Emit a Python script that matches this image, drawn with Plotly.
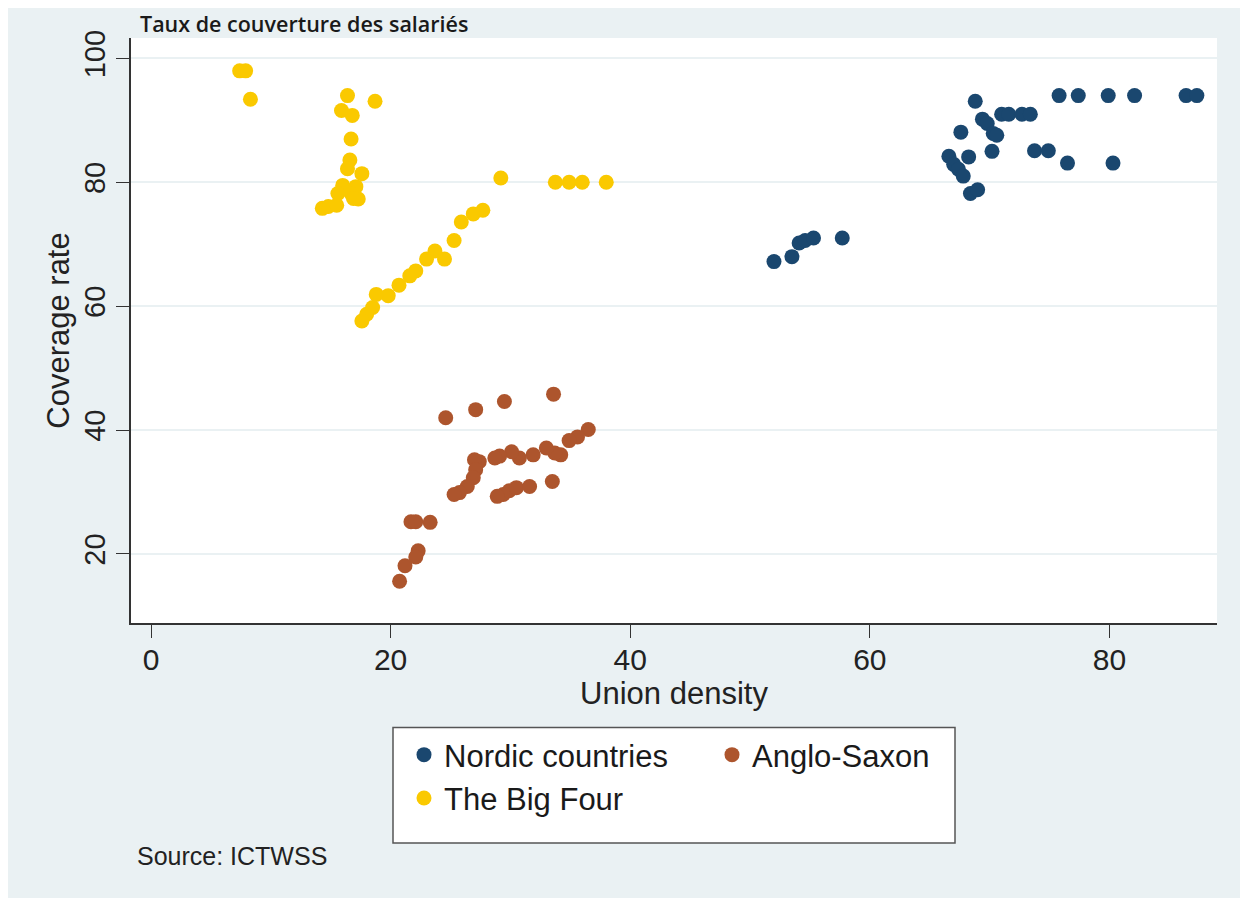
import plotly.graph_objects as go

# ---- data ----
nordic_x = [52.0, 53.5, 54.1, 54.6, 55.3, 57.7,
            66.6, 67.0, 67.4, 67.8, 68.25, 67.6, 68.4, 69.0, 68.8, 69.4, 69.8, 70.3, 70.6, 70.2,
            71.0, 71.6, 72.7, 73.4, 73.75, 74.9, 76.5, 80.3, 75.8, 77.4, 79.9, 82.1, 86.4, 87.3]
nordic_y = [67.2, 68.0, 70.2, 70.6, 71.0, 71.0,
            84.2, 82.9, 82.1, 81.0, 84.1, 88.1, 78.2, 78.8, 93.1, 90.2, 89.5, 87.9, 87.6, 85.0,
            91.0, 91.0, 91.0, 91.0, 85.1, 85.1, 83.1, 83.1, 94.0, 94.0, 94.0, 94.0, 94.0, 94.0]

anglo_x = [24.6, 27.1, 29.5, 33.6, 36.5, 35.6, 34.9, 34.2, 33.7, 33.0, 31.9, 30.75, 30.1, 29.1,
           28.7, 27.4, 27.0, 27.1, 26.9, 26.4, 25.75, 25.3, 29.4, 29.9, 30.5, 31.6, 28.9, 33.5,
           21.7, 22.1, 23.3, 22.3, 22.1, 21.2, 20.75]
anglo_y = [42.0, 43.3, 44.6, 45.8, 40.1, 38.9, 38.3, 36.0, 36.3, 37.1, 36.0, 35.5, 36.5, 35.8,
           35.5, 34.9, 35.2, 33.6, 32.3, 30.9, 29.9, 29.6, 29.6, 30.2, 30.7, 30.9, 29.3, 31.7,
           25.2, 25.2, 25.1, 20.5, 19.5, 18.1, 15.6]

big4_x = [7.4, 7.9, 8.3, 16.4, 18.7, 15.9, 16.8, 16.7, 16.6, 16.4, 17.6, 16.0, 17.1, 15.6, 16.7,
          17.3, 16.9, 14.3, 14.8, 15.5, 29.2, 33.75, 34.9, 36.0, 38.0, 27.7, 26.9, 25.9, 25.3,
          24.5, 23.7, 23.0, 22.1, 21.6, 20.7, 19.8, 18.8, 18.5, 18.0, 17.6]
big4_y = [98.0, 98.0, 93.4, 94.0, 93.1, 91.6, 90.8, 87.0, 83.6, 82.2, 81.4, 79.5, 79.3, 78.2, 78.2,
          77.3, 77.4, 75.8, 76.1, 76.3, 80.7, 80.0, 80.0, 80.0, 80.0, 75.5, 74.9, 73.6, 70.6,
          67.6, 68.9, 67.6, 65.7, 64.9, 63.4, 61.7, 61.9, 59.8, 58.7, 57.6]

x_ticks = [0, 20, 40, 60, 80]
y_ticks = [20, 40, 60, 80, 100]

title_text = "Taux de couverture des salariés"
x_title = "Union density"
y_title = "Coverage rate"
source_text = "Source: ICTWSS"

# ---- styling ----
BG = "#eaf1f3"
NAVY = "#1a476f"
BROWN = "#ad552d"
GOLD = "#fac900"
FONT = "Liberation Sans, Arial, sans-serif"
TXT = "#222222"
MS = 15

fig = go.Figure()
fig.add_trace(go.Scatter(x=nordic_x, y=nordic_y, mode="markers", name="Nordic countries",
                         marker=dict(color=NAVY, size=MS), legend="legend"))
fig.add_trace(go.Scatter(x=anglo_x, y=anglo_y, mode="markers", name="Anglo-Saxon",
                         marker=dict(color=BROWN, size=MS), legend="legend2"))
fig.add_trace(go.Scatter(x=big4_x, y=big4_y, mode="markers", name="The Big Four",
                         marker=dict(color=GOLD, size=MS), legend="legend"))

# the page puts the figure at an 8 px offset (body margin)
OFF = 8
W, H = 1248, 890
L, T = 123, 30
PR, PB = 1209, 615  # plot right / bottom edge in figure pixels
R, B = W - PR, H - PB
pw, ph = PR - L, PB - T


def px(xp):  # page pixel -> paper x
    return (xp - OFF - L) / pw


def py(yp):  # page pixel -> paper y
    return (PB - (yp - OFF)) / ph


legend_font = dict(family=FONT, size=31, color="#1a1a1a")

fig.update_layout(
    width=W, height=H,
    margin=dict(l=L, r=R, t=T, b=B),
    paper_bgcolor=BG,
    plot_bgcolor="white",
    font=dict(family=FONT, color=TXT),
    xaxis=dict(range=[-1.67, 88.98], tickvals=x_ticks, showgrid=False, zeroline=False,
               showline=True, linecolor="#333333", linewidth=1.5,
               ticks="outside", ticklen=13, tickwidth=1.3, tickcolor="#333333",
               ticklabelstandoff=-4,
               tickfont=dict(size=30, family=FONT, color=TXT),
               title=dict(text=x_title, font=dict(size=31, family=FONT, color=TXT), standoff=2)),
    yaxis=dict(range=[8.85, 103.3], tickvals=y_ticks, showgrid=True, gridcolor=BG, gridwidth=1.5,
               zeroline=False, showline=True, linecolor="#333333", linewidth=1.5,
               ticks="outside", ticklen=13, tickwidth=1.3, tickcolor="#333333", tickangle=-90,
               tickfont=dict(size=29, family=FONT, color=TXT),
               title=dict(text=y_title, font=dict(size=31, family=FONT, color=TXT), standoff=0)),
    legend=dict(x=px(404), y=py(728), xanchor="left", yanchor="top", orientation="v",
                bgcolor="rgba(0,0,0,0)", borderwidth=0, font=legend_font),
    legend2=dict(x=px(712), y=py(728), xanchor="left", yanchor="top", orientation="v",
                 bgcolor="rgba(0,0,0,0)", borderwidth=0, font=legend_font),
    showlegend=True,
)

# legend frame
fig.add_shape(type="rect", xref="paper", yref="paper",
              x0=px(393), x1=px(955), y0=py(843), y1=py(727.5),
              fillcolor="white", line=dict(color="#555555", width=1.5), layer="below")

fig.add_annotation(text=title_text, xref="paper", yref="paper", x=px(138), y=py(23),
                   xanchor="left", yanchor="middle", showarrow=False,
                   font=dict(family="Open Sans, sans-serif", size=21.5, weight=600, color="#1a1a1a"))
fig.add_annotation(text=source_text, xref="paper", yref="paper", x=px(135), y=py(856),
                   xanchor="left", yanchor="middle", showarrow=False,
                   font=dict(family=FONT, size=25, color=TXT))

fig.write_html("out.html")
